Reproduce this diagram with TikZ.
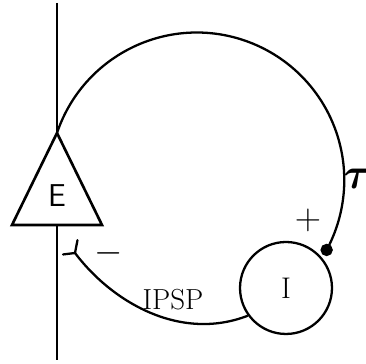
\documentclass[tikz,border=0pt]{standalone}
\usepackage{amsmath,bm}
\usetikzlibrary{arrows,calc,positioning}

\begin{document}
\begin{tikzpicture}[x=0.02cm, y=0.02cm, line width=1.3pt]
\useasboundingbox (0,0) rectangle (366,364);

% dendrite / axon line
\coordinate (top) at (57, 361);
\coordinate (bottom) at (57, 4);
\draw [line width=1.4pt] (top) to (bottom);

% excitatory cell
\coordinate (apex) at (57, 231);
\coordinate (baseL) at (12, 139);
\coordinate (baseR) at (102, 139);
\filldraw [fill=white, line width=1.5pt, line join=miter] (apex) -- (baseL) -- (baseR) -- cycle;
\node[] (E) at (57, 168) {\sffamily\fontsize{18}{20}\selectfont E};

% inhibitory cell
\node[draw, circle, fill=white, inner sep=0pt, minimum size=1.84cm] (I) at (286, 76) {\fontsize{17}{19}\selectfont I};

% excitatory loop
\draw (apex) arc [start angle=161.4, end angle=-28.3, radius=147.5] coordinate (syn);
\filldraw (syn) circle [radius=5];
\node[] (plus) at (308, 144) {\fontsize{20}{22}\selectfont $+$};
\node[] (tau) at (358, 185) {\fontsize{23}{25}\selectfont $\boldsymbol{\tau}$};

% inhibitory feedback
\coordinate (fork) at (75, 111);
\coordinate (forkL) at ($(fork) + (187:12)$);
\coordinate (forkU) at ($(fork) + (79:13)$);
\draw (I.216) .. controls (180, 22) and (112, 62) .. (fork);
\draw [line cap=round] (forkL) to (fork) to (forkU);
\node[] (minus) at (109, 111) {\fontsize{20}{22}\selectfont $-$};
\node[] (IPSP) at (173, 64) {\fontsize{16.5}{19}\selectfont IPSP};
\end{tikzpicture}
\end{document}
